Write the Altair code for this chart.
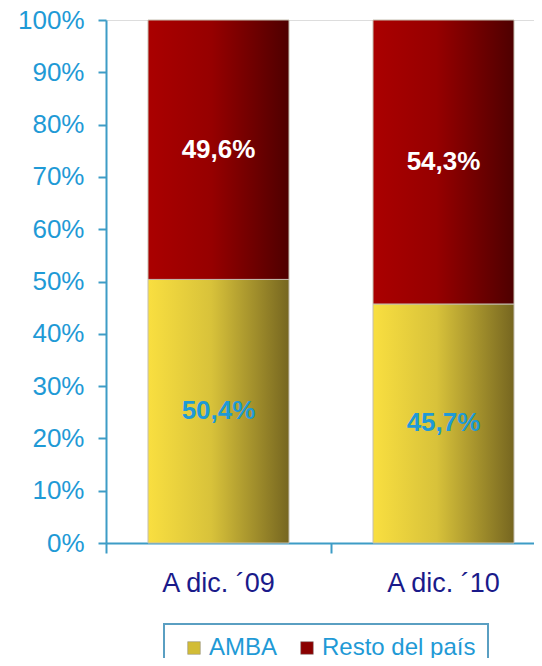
import altair as alt
import pandas as pd

categories = ["A dic. ´09", "A dic. ´10"]
series = ["AMBA", "Resto del país"]
amba = [50.4, 45.7]
resto = [49.6, 54.3]
y_ticks = [0, 0.1, 0.2, 0.3, 0.4, 0.5, 0.6, 0.7, 0.8, 0.9, 1.0]

rows = []
for i, c in enumerate(categories):
    base = 0.0
    for s, vals in zip(series, [amba, resto]):
        v = vals[i] / 100.0
        rows.append({
            "cat": c, "series": s, "value": vals[i],
            "y0": base, "y1": base + v, "ymid": base + v / 2,
            "label": f"{vals[i]:.1f}".replace(".", ",") + "%",
        })
        base += v
df = pd.DataFrame(rows)

FONT = "Liberation Sans"
BLUE = "#1f9ad6"
AXIS = "#3d9cc6"
NAVY = "#1a1a8a"

grad_yellow = {"gradient": "linear", "x1": 0, "x2": 1, "y1": 0, "y2": 0,
               "stops": [{"offset": 0, "color": "#f9df40"},
                         {"offset": 0.45, "color": "#d8c23a"},
                         {"offset": 1, "color": "#766620"}]}
grad_red = {"gradient": "linear", "x1": 0, "x2": 1, "y1": 0, "y2": 0,
            "stops": [{"offset": 0, "color": "#aa0000"},
                      {"offset": 0.45, "color": "#960000"},
                      {"offset": 1, "color": "#4e0000"}]}

x_enc = alt.X("cat:N", sort=categories, title=None,
              scale=alt.Scale(range=[0, 450], paddingInner=0, paddingOuter=0),
              axis=alt.Axis(labelAngle=0, bandPosition=0, tickSize=10,
                            labelPadding=17, labelFontSize=27, labelColor=NAVY,
                            labelFont=FONT, domainColor=AXIS, tickColor=AXIS,
                            domainWidth=2, tickWidth=2))
y_enc = alt.Y("y0:Q", title=None,
              scale=alt.Scale(domain=[0, 1], nice=False),
              axis=alt.Axis(values=y_ticks, format=".0%", grid=False, tickSize=8,
                            labelPadding=14, labelFontSize=26, labelColor=BLUE,
                            labelFont=FONT, domainColor=AXIS, tickColor=AXIS,
                            domainWidth=2, tickWidth=2))

base = alt.Chart(df)

legend_layer = base.mark_bar(size=141).encode(
    x=x_enc, y=y_enc, y2="y1:Q",
    color=alt.Color("series:N", sort=series,
                    scale=alt.Scale(domain=series, range=["#d2bc36", "#8a0000"]),
                    legend=alt.Legend(title=" ", titleOrient="left", titlePadding=6,
                                      titleFontSize=24,
                                      orient="none", legendX=58, legendY=604,
                                      direction="horizontal", symbolType="square",
                                      symbolSize=160, symbolStrokeColor="#888",
                                      symbolStrokeWidth=0.5,
                                      labelFontSize=24, labelColor=BLUE, labelFont=FONT,
                                      labelOffset=3, columnPadding=17, padding=12,
                                      labelExpr="datum.label == 'AMBA' ? datum.label : datum.label + '   '",
                                      strokeColor="#5a9fc2",
                                      fillColor="white")),
)

grad_layer = base.mark_bar(size=141, stroke="#c4bfb0", strokeWidth=1).encode(
    x=alt.X("cat:N", sort=categories),
    y="y0:Q", y2="y1:Q",
    color=alt.condition(alt.datum.series == "AMBA", alt.value(grad_yellow), alt.value(grad_red)),
)

text_layer = base.mark_text(font=FONT, fontSize=26, fontWeight="bold").encode(
    x=alt.X("cat:N", sort=categories),
    y=alt.Y("ymid:Q"),
    text="label:N",
    color=alt.condition(alt.datum.series == "AMBA", alt.value(BLUE), alt.value("white")),
)

chart = alt.layer(legend_layer, grad_layer, text_layer).properties(
    width=428, height=523,
    autosize=alt.AutoSizeParams(type="none"),
    padding={"left": 98, "top": 12, "right": 0, "bottom": 115},
).configure_view(stroke=None).configure(background="white").configure_legend(
    strokeWidth=2
)

chart.save("out.html", embed_options={"renderer": "svg", "actions": False})
